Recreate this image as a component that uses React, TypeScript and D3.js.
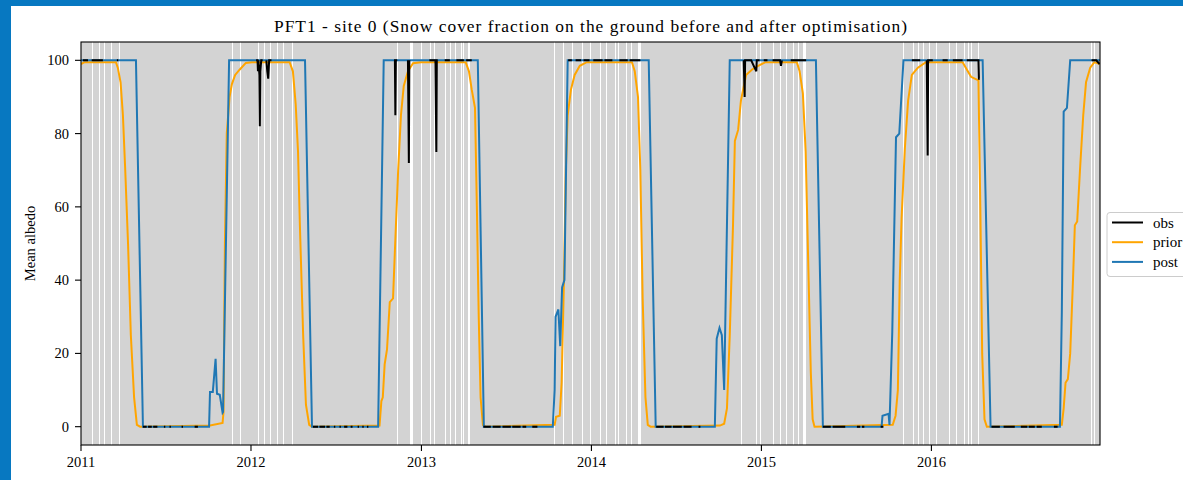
import React from 'react';
import * as d3 from 'd3';

// chart values
const yTicks = [0, 20, 40, 60, 80, 100];
const yearLabels = ['2011', '2012', '2013', '2014', '2015', '2016'];
const legendLabels = ['obs', 'prior', 'post'];
const legendColors = ['#000000', '#ffa500', '#1f77b4'];

// days without grey shading: [start date, length in days]
const clearSpans: [string, number][] = [
  ['2011-01-25', 2], ['2011-02-09', 3], ['2011-02-20', 2], ['2011-03-06', 2], ['2011-03-23', 3],
  ['2011-11-22', 2], ['2011-12-09', 2], ['2012-01-15', 3], ['2012-01-29', 2], ['2012-02-11', 2],
  ['2012-02-25', 2], ['2012-03-09', 2], ['2012-03-30', 3],
  ['2012-11-10', 2], ['2012-12-07', 6], ['2012-12-30', 2], ['2013-01-20', 2], ['2013-01-27', 2],
  ['2013-02-21', 2], ['2013-03-04', 2], ['2013-03-15', 2], ['2013-03-26', 2], ['2013-04-01', 2],
  ['2013-04-11', 5],
  ['2013-10-13', 2], ['2013-11-02', 2], ['2013-11-21', 2], ['2013-12-12', 2], ['2013-12-29', 2],
  ['2014-01-20', 2], ['2014-02-02', 2], ['2014-02-21', 2], ['2014-02-28', 2], ['2014-03-17', 2],
  ['2014-03-26', 2], ['2014-04-10', 6],
  ['2014-11-19', 2], ['2014-12-21', 2], ['2014-12-30', 2], ['2015-01-26', 2], ['2015-02-10', 2],
  ['2015-02-23', 2], ['2015-03-10', 2], ['2015-03-21', 2], ['2015-04-01', 7],
  ['2015-11-02', 2], ['2015-11-23', 2], ['2015-12-04', 2], ['2015-12-15', 2], ['2015-12-26', 2],
  ['2016-01-11', 2], ['2016-02-08', 2], ['2016-02-23', 2], ['2016-03-12', 2], ['2016-03-20', 2],
  ['2016-03-27', 3], ['2016-04-11', 3],
  ['2016-12-09', 2], ['2016-12-16', 2],
];

const priorSeries: [string, number][] = [
  ['2011-01-01', 99], ['2011-01-09', 99.5], ['2011-03-17', 99.5], ['2011-03-21', 98], ['2011-03-27', 94],
  ['2011-04-01', 85], ['2011-04-06', 70], ['2011-04-12', 50], ['2011-04-18', 25], ['2011-04-25', 8],
  ['2011-05-01', 0.5], ['2011-05-08', 0], ['2011-10-05', 0.3], ['2011-11-01', 1], ['2011-11-03', 4],
  ['2011-11-06', 50], ['2011-11-10', 80], ['2011-11-16', 90], ['2011-11-21', 93.5], ['2011-11-28', 96],
  ['2011-12-08', 97.5], ['2011-12-21', 99.3], ['2012-01-03', 99.5],
  ['2012-03-24', 99.5], ['2012-03-31', 97], ['2012-04-06', 88], ['2012-04-11', 75], ['2012-04-15', 55],
  ['2012-04-22', 25], ['2012-04-28', 6], ['2012-05-05', 0.5], ['2012-05-11', 0], ['2012-10-03', 0.3],
  ['2012-10-07', 7], ['2012-10-10', 8], ['2012-10-14', 17], ['2012-10-19', 21], ['2012-10-25', 34],
  ['2012-11-01', 35], ['2012-11-05', 48], ['2012-11-12', 70], ['2012-11-18', 85], ['2012-11-24', 93],
  ['2012-12-03', 97], ['2012-12-14', 99.2], ['2012-12-31', 99.5],
  ['2013-04-06', 99.5], ['2013-04-13', 97], ['2013-04-19', 92], ['2013-04-26', 87], ['2013-04-30', 60],
  ['2013-05-04', 30], ['2013-05-08', 8], ['2013-05-13', 0.5], ['2013-05-19', 0], ['2013-10-14', 0.5],
  ['2013-10-17', 2.7], ['2013-10-25', 3], ['2013-10-29', 12], ['2013-11-03', 40], ['2013-11-07', 70],
  ['2013-11-11', 85], ['2013-11-18', 92], ['2013-11-26', 96], ['2013-12-07', 98.5], ['2013-12-22', 99.5],
  ['2014-03-29', 99.5], ['2014-04-04', 97], ['2014-04-11', 90], ['2014-04-16', 70], ['2014-04-21', 35],
  ['2014-04-27', 8], ['2014-05-02', 0.5], ['2014-05-08', 0], ['2014-10-04', 0.3], ['2014-10-13', 0.8],
  ['2014-10-19', 5], ['2014-10-25', 25], ['2014-11-01', 55], ['2014-11-05', 78], ['2014-11-12', 81],
  ['2014-11-18', 89], ['2014-11-29', 96], ['2014-12-12', 97.5], ['2014-12-25', 98.5], ['2015-01-10', 99.5],
  ['2015-03-18', 99.5], ['2015-03-24', 97], ['2015-03-31', 91], ['2015-04-06', 75], ['2015-04-12', 42],
  ['2015-04-17', 15], ['2015-04-21', 2], ['2015-04-25', 0], ['2015-10-10', 0.5], ['2015-10-16', 3],
  ['2015-10-21', 10], ['2015-10-25', 40], ['2015-10-29', 57], ['2015-11-05', 76], ['2015-11-12', 89],
  ['2015-11-20', 96], ['2015-12-03', 98], ['2015-12-20', 99.5],
  ['2016-03-08', 99.5], ['2016-03-17', 97.5], ['2016-03-26', 95.5], ['2016-04-03', 95], ['2016-04-11', 94.5],
  ['2016-04-15', 60], ['2016-04-19', 20], ['2016-04-24', 2], ['2016-04-29', 0], ['2016-10-07', 0.5],
  ['2016-10-11', 5], ['2016-10-15', 12], ['2016-10-20', 13], ['2016-10-25', 20], ['2016-10-31', 40],
  ['2016-11-04', 55], ['2016-11-09', 56], ['2016-11-15', 70], ['2016-11-22', 85], ['2016-11-28', 94],
  ['2016-12-07', 98], ['2016-12-16', 99.5], ['2016-12-28', 99],
];

const postSeries: [string, number][] = [
  ['2011-01-01', 100], ['2011-04-29', 100], ['2011-05-14', 0], ['2011-10-03', 0], ['2011-10-05', 9.5],
  ['2011-10-11', 9.5], ['2011-10-17', 18.5], ['2011-10-20', 9], ['2011-10-26', 8.7], ['2011-11-01', 3.8],
  ['2011-11-02', 4], ['2011-11-15', 100],
  ['2012-04-26', 100], ['2012-05-11', 0], ['2012-09-30', 0], ['2012-10-12', 100],
  ['2013-05-02', 100], ['2013-05-15', 0], ['2013-10-10', 0], ['2013-10-14', 10], ['2013-10-16', 30],
  ['2013-10-22', 32], ['2013-10-26', 22], ['2013-10-30', 38], ['2013-11-04', 40], ['2013-11-11', 100],
  ['2014-05-04', 100], ['2014-05-19', 0], ['2014-09-23', 0], ['2014-09-27', 24], ['2014-10-03', 27],
  ['2014-10-08', 25], ['2014-10-13', 10], ['2014-10-25', 100],
  ['2015-04-28', 100], ['2015-05-13', 0], ['2015-09-16', 0], ['2015-09-18', 3], ['2015-10-01', 3.5],
  ['2015-10-03', 0.5], ['2015-10-09', 26], ['2015-10-17', 79], ['2015-10-24', 80], ['2015-11-02', 100],
  ['2016-04-20', 100], ['2016-05-07', 0], ['2016-10-03', 0], ['2016-10-07', 31], ['2016-10-11', 86],
  ['2016-10-18', 87], ['2016-10-25', 100], ['2016-12-28', 100],
];

// observations, null = missing days
const obsSeries: ([string, number] | null)[] = [
  ['2011-01-05', 100], ['2011-01-16', 100], null, ['2011-01-24', 100], ['2011-02-17', 100], null,
  ['2011-03-19', 100], ['2011-03-22', 100], null,
  ['2011-05-14', 0], ['2011-05-22', 0], null, ['2011-05-25', 0], ['2011-06-02', 0], null,
  ['2011-06-05', 0], ['2011-06-14', 0], null, ['2011-06-28', 0], ['2011-07-01', 0], null,
  ['2011-07-10', 0], ['2011-07-13', 0], null, ['2011-08-05', 0], ['2011-08-08', 0], null,
  ['2011-09-02', 0], ['2011-09-09', 0], null,
  ['2012-01-12', 100], ['2012-01-15', 100], ['2012-01-16', 97], ['2012-01-17', 100], ['2012-01-19', 96],
  ['2012-01-20', 82], ['2012-01-21', 97], ['2012-01-23', 100], ['2012-01-26', 100], null,
  ['2012-02-03', 100], ['2012-02-05', 97], ['2012-02-07', 95], ['2012-02-09', 100], ['2012-02-14', 100], null,
  ['2012-05-13', 0], ['2012-05-24', 0], null, ['2012-05-27', 0], ['2012-06-08', 0], null,
  ['2012-06-11', 0], ['2012-06-18', 0], null, ['2012-06-27', 0], ['2012-06-30', 0], null,
  ['2012-07-09', 0], ['2012-07-12', 0], null, ['2012-07-19', 0], ['2012-07-26', 0], null,
  ['2012-08-02', 0], ['2012-08-06', 0], null, ['2012-08-17', 0], ['2012-08-20', 0], null,
  ['2012-08-27', 0], ['2012-08-30', 0], null, ['2012-09-06', 0], ['2012-09-09', 0], null,
  ['2012-11-03', 100], ['2012-11-05', 100], ['2012-11-06', 85], ['2012-11-07', 100], ['2012-11-10', 100], null,
  ['2012-12-03', 100], ['2012-12-05', 72], ['2012-12-06', 100], null,
  ['2013-01-18', 100], ['2013-01-31', 100], ['2013-02-02', 75], ['2013-02-03', 100], ['2013-02-05', 100], null,
  ['2013-02-20', 100], ['2013-03-03', 100], null, ['2013-03-17', 100], ['2013-04-02', 100], null,
  ['2013-04-07', 100], ['2013-04-19', 100], null,
  ['2013-05-14', 0], ['2013-05-30', 0], null, ['2013-06-03', 0], ['2013-06-20', 0], null,
  ['2013-06-24', 0], ['2013-07-12', 0], null, ['2013-07-15', 0], ['2013-08-02', 0], null,
  ['2013-08-06', 0], ['2013-08-14', 0], null, ['2013-08-27', 0], ['2013-09-07', 0], null,
  ['2013-11-12', 100], ['2013-11-20', 100], null, ['2013-11-28', 100], ['2013-12-10', 100], null,
  ['2013-12-15', 100], ['2013-12-28', 100], null, ['2014-01-05', 100], ['2014-01-25', 100], null,
  ['2014-01-29', 100], ['2014-02-15', 100], null, ['2014-03-02', 100], ['2014-03-20', 100], null,
  ['2014-03-24', 100], ['2014-04-16', 100], null,
  ['2014-05-20', 0], ['2014-06-05', 0], null, ['2014-06-08', 0], ['2014-06-22', 0], null,
  ['2014-06-25', 0], ['2014-07-14', 0], null, ['2014-07-18', 0], ['2014-08-04', 0], null,
  ['2014-08-19', 0], ['2014-08-23', 0], null,
  ['2014-11-24', 100], ['2014-11-26', 90], ['2014-11-27', 100], ['2014-12-10', 100], ['2014-12-21', 97],
  ['2014-12-22', 100], ['2014-12-28', 100], null, ['2015-01-06', 100], ['2015-01-14', 100], null,
  ['2015-01-25', 100], ['2015-02-10', 100], ['2015-02-12', 98.5], ['2015-02-14', 100], null,
  ['2015-03-05', 100], ['2015-04-07', 100], null,
  ['2015-05-13', 0], ['2015-05-30', 0], null, ['2015-06-03', 0], ['2015-06-30', 0], null,
  ['2015-07-25', 0], ['2015-08-01', 0], null, ['2015-08-05', 0], ['2015-08-10', 0], null,
  ['2015-09-14', 0], ['2015-09-20', 0], null,
  ['2015-11-20', 100], ['2015-12-08', 100], null, ['2015-12-22', 100], ['2015-12-24', 74],
  ['2015-12-25', 100], ['2016-01-04', 100], null, ['2016-01-25', 100], ['2016-02-05', 100], null,
  ['2016-02-16', 100], ['2016-03-08', 100], null, ['2016-03-17', 100], ['2016-04-11', 100],
  ['2016-04-12', 95], ['2016-04-14', 95], null,
  ['2016-05-09', 0], ['2016-05-27', 0], null, ['2016-06-04', 0], ['2016-06-28', 0], null,
  ['2016-07-11', 0], ['2016-07-25', 0], null, ['2016-07-28', 0], ['2016-08-10', 0], null,
  ['2016-08-14', 0], ['2016-08-25', 0], null, ['2016-09-20', 0], ['2016-09-28', 0], null,
  ['2016-12-10', 100], ['2016-12-20', 100], ['2016-12-27', 99],
];

const parse = d3.timeParse('%Y-%m-%d');
const font = '"Liberation Serif", "DejaVu Serif", serif';

export default function App() {
  const left = 81, right = 1100, top = 42, bottom = 445;

  const x = d3.scaleTime()
    .domain([parse('2011-01-01')!, parse('2016-12-28')!])
    .range([left, right]);
  const y = d3.scaleLinear().domain([-5, 105]).range([bottom, top]);

  const line = d3.line<[string, number]>()
    .x(d => x(parse(d[0])!))
    .y(d => y(d[1]));
  const obsLine = d3.line<[string, number] | null>()
    .defined(d => d !== null)
    .x(d => x(parse(d![0])!))
    .y(d => y(d![1]));

  return (
    <svg width={1183} height={480} style={{ position: 'absolute', left: 0, top: 0, fontFamily: font }}>
      <rect x={0} y={0} width={1183} height={480} fill="#0778c1" />
      <rect x={11} y={6} width={1172} height={474} fill="#ffffff" />
      <defs>
        <clipPath id="plotClip">
          <rect x={left} y={top} width={right - left} height={bottom - top} />
        </clipPath>
      </defs>

      {/* grey shading with clear days */}
      <rect x={left} y={top} width={right - left} height={bottom - top} fill="#d3d3d3" />
      <g clipPath="url(#plotClip)">
        {clearSpans.map(([d, n], i) => {
          const a = parse(d)!;
          const x0 = Math.round(x(a));
          const w = Math.max(1, Math.round(x(d3.timeDay.offset(a, n)) - x(a)));
          return <rect key={i} x={x0} y={top} width={w} height={bottom - top} fill="#ffffff" shapeRendering="crispEdges" />;
        })}
        <path d={line(priorSeries) || ''} fill="none" stroke="#ffa500" strokeWidth={2} />
        <path d={line(postSeries) || ''} fill="none" stroke="#1f77b4" strokeWidth={2} />
        <path d={obsLine(obsSeries) || ''} fill="none" stroke="#000000" strokeWidth={2} />
      </g>

      <rect x={left} y={top} width={right - left} height={bottom - top} fill="none" stroke="#000" strokeWidth={1.1} />

      {/* y axis */}
      {yTicks.map(t => (
        <g key={t} transform={`translate(0,${y(t)})`}>
          <line x1={left - 6} x2={left} stroke="#000" strokeWidth={1.1} />
          <text x={left - 12} dy="0.35em" textAnchor="end" fontSize={14.5}>{t}</text>
        </g>
      ))}
      {/* x axis */}
      {yearLabels.map(yr => (
        <g key={yr} transform={`translate(${x(parse(yr + '-01-01')!)},0)`}>
          <line y1={bottom} y2={bottom + 6} stroke="#000" strokeWidth={1.1} />
          <text y={bottom + 22} textAnchor="middle" fontSize={14.5}>{yr}</text>
        </g>
      ))}

      <text transform={`translate(35,${(top + bottom) / 2}) rotate(-90)`} textAnchor="middle" fontSize={14.5}>Mean albedo</text>
      <text x={(left + right) / 2} y={32} textAnchor="middle" fontSize={17.4} textLength={633} lengthAdjust="spacing">
        PFT1 - site 0 (Snow cover fraction on the ground before and after optimisation)
      </text>

      {/* legend */}
      <rect x={1107} y={212.5} width={110} height={64} rx={3} fill="#ffffff" fillOpacity={0.8} stroke="#cccccc" />
      {legendLabels.map((lab, i) => (
        <g key={lab} transform={`translate(1112,${222.5 + i * 19.7})`}>
          <line x1={0} x2={31} stroke={legendColors[i]} strokeWidth={2} />
          <text x={41} dy="0.35em" fontSize={15}>{lab}</text>
        </g>
      ))}
    </svg>
  );
}
